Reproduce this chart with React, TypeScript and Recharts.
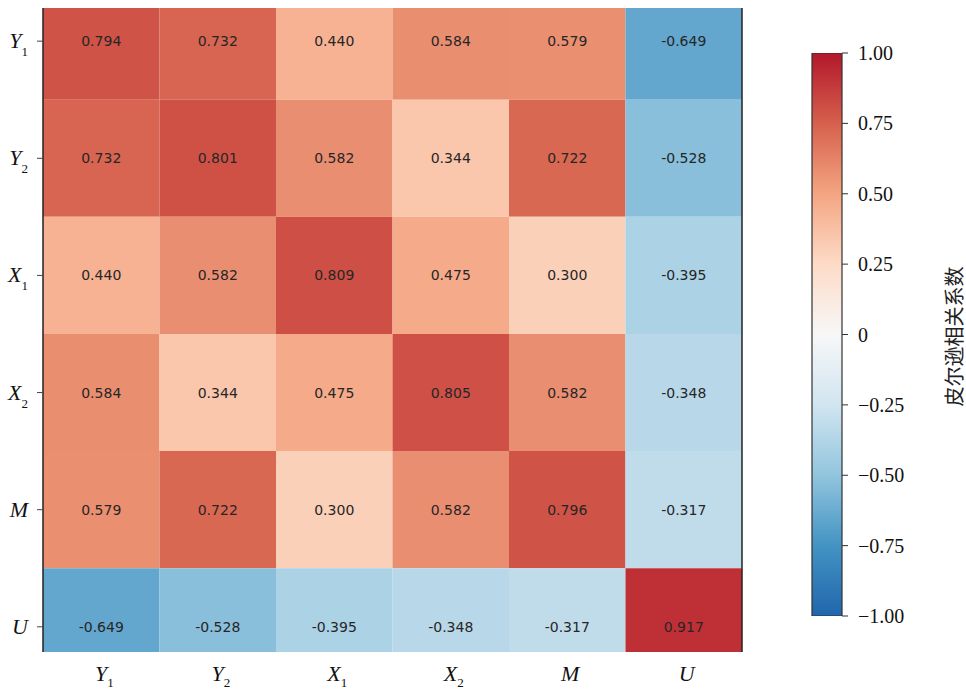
import React from 'react';
import { ScatterChart, Scatter, BarChart, Bar, XAxis, YAxis, ReferenceArea, ReferenceLine } from 'recharts';

// variable names, top-to-bottom / left-to-right
const labelBases = ['Y', 'Y', 'X', 'X', 'M', 'U'];
const labelSubs = ['1', '2', '1', '2', '', ''];

// Pearson correlation rows
const rowY1 = [0.794, 0.732, 0.44, 0.584, 0.579, -0.649];
const rowY2 = [0.732, 0.801, 0.582, 0.344, 0.722, -0.528];
const rowX1 = [0.44, 0.582, 0.809, 0.475, 0.3, -0.395];
const rowX2 = [0.584, 0.344, 0.475, 0.805, 0.582, -0.348];
const rowM = [0.579, 0.722, 0.3, 0.582, 0.796, -0.317];
const rowU = [-0.649, -0.528, -0.395, -0.348, -0.317, 0.917];
const matrix = [rowY1, rowY2, rowX1, rowX2, rowM, rowU];

const colorbarTicks = [1, 0.75, 0.5, 0.25, 0, -0.25, -0.5, -0.75, -1];
const colorbarRange = [{ name: 'r', range: [-1, 1] }];

// RdBu_r stops from -1 to 1
const rdbu = ['#2166ac', '#4393c3', '#92c5de', '#d1e5f0', '#f7f7f7', '#fddbc7', '#f4a582', '#d6604d', '#b2182b'];

const hexToRgb = (h: string) => [1, 3, 5].map(i => parseInt(h.slice(i, i + 2), 16));

const colorFor = (v: number) => {
  const t = Math.min(Math.max((v + 1) / 2, 0), 1) * (rdbu.length - 1);
  const i = Math.min(Math.floor(t), rdbu.length - 2);
  const f = t - i;
  const a = hexToRgb(rdbu[i]);
  const b = hexToRgb(rdbu[i + 1]);
  const c = a.map((x, k) => Math.round(x + (b[k] - x) * f));
  return `rgb(${c[0]},${c[1]},${c[2]})`;
};

const cells = matrix.flatMap((row, r) => row.map((v, c) => ({ x: c + 0.5, y: r + 0.5, r, c, v })));
const centerTicks = labelBases.map((_, i) => i + 0.5);

const serif = 'Liberation Serif, Times New Roman, serif';

const YTick = (props: any) => {
  const { x, y, payload } = props;
  const i = Math.floor(payload.value);
  return (
    <text x={x - 7} y={y} textAnchor="end" fontFamily={serif} fontSize={22} fill="#111">
      <tspan fontStyle="italic" dy={7}>{labelBases[i]}</tspan>
      {labelSubs[i] && <tspan fontSize={13} dy={8}>{labelSubs[i]}</tspan>}
    </text>
  );
};

const XTick = (props: any) => {
  const { x, y, payload } = props;
  const i = Math.floor(payload.value);
  return (
    <text x={x + 3} y={y} textAnchor="middle" fontFamily={serif} fontSize={22} fill="#111">
      <tspan fontStyle="italic" dy={21}>{labelBases[i]}</tspan>
      {labelSubs[i] && <tspan fontSize={13} dy={6}>{labelSubs[i]}</tspan>}
    </text>
  );
};

const ValueLabel = (props: any) => (
  <text
    x={props.cx}
    y={props.cy}
    textAnchor="middle"
    dominantBaseline="central"
    fontFamily="DejaVu Sans, sans-serif"
    fontSize={14}
    fill="#262626"
  >
    {props.payload.v.toFixed(3)}
  </text>
);

const fmtTick = (v: number) => (v === 0 ? '0' : (v < 0 ? '\u2212' : '') + Math.abs(v).toFixed(2));

const CbarTitle = (props: any) => {
  const { viewBox } = props;
  const cx = viewBox.x + 111;
  const cy = viewBox.y + viewBox.height / 2 + 2;
  return (
    <text
      x={cx}
      y={cy}
      transform={`rotate(-90 ${cx} ${cy})`}
      textAnchor="middle"
      dominantBaseline="central"
      fontFamily="Noto Sans CJK SC, sans-serif"
      fontSize={20}
      fill="#222"
    >
      皮尔逊相关系数
    </text>
  );
};

export default function App() {
  return (
    <div style={{ position: 'absolute', left: 0, top: 0, width: 966, height: 690, background: '#fff' }}>
      <div style={{ position: 'absolute', left: 0, top: 0 }}>
        <ScatterChart width={760} height={690} margin={{ top: 8, right: 18, bottom: 0, left: 0 }}>
          <XAxis
            type="number"
            dataKey="x"
            domain={[0, 6]}
            ticks={centerTicks}
            axisLine={false}
            tickLine={false}
            height={38}
            tick={<XTick />}
            allowDataOverflow
          />
          <YAxis
            type="number"
            dataKey="y"
            domain={[0.217, 5.715]}
            reversed
            ticks={centerTicks}
            width={43}
            tickSize={6}
            axisLine={{ stroke: '#222', strokeWidth: 1.5 }}
            tickLine={{ stroke: '#444' }}
            tick={<YTick />}
            allowDataOverflow
          />
          {cells.map(d => (
            <ReferenceArea
              key={`${d.r}-${d.c}`}
              x1={d.c}
              x2={d.c + 1}
              y1={d.r}
              y2={d.r + 1}
              fill={colorFor(d.v)}
              fillOpacity={1}
              stroke="none"
              ifOverflow="hidden"
            />
          ))}
          <ReferenceLine x={6} stroke="#222" strokeWidth={1.5} />
          <Scatter data={cells} shape={<ValueLabel />} isAnimationActive={false} />
        </ScatterChart>
      </div>
      <div style={{ position: 'absolute', left: 780, top: 0 }}>
        <BarChart
          width={186}
          height={690}
          data={colorbarRange}
          margin={{ top: 53, right: 0, bottom: 74, left: 32 }}
          barCategoryGap={0}
        >
          <defs>
            <linearGradient id="cbarGrad" x1="0" y1="1" x2="0" y2="0">
              {rdbu.map((c, i) => (
                <stop key={c} offset={`${(i / (rdbu.length - 1)) * 100}%`} stopColor={c} />
              ))}
            </linearGradient>
          </defs>
          <XAxis dataKey="name" hide />
          <YAxis
            type="number"
            orientation="right"
            domain={[-1, 1]}
            ticks={colorbarTicks}
            tickFormatter={fmtTick}
            width={124}
            tickSize={6}
            tickMargin={10}
            axisLine={false}
            tickLine={{ stroke: '#333' }}
            tick={{ fontFamily: serif, fontSize: 20, fill: '#111' }}
            label={{ content: <CbarTitle /> }}
            allowDataOverflow
          />
          <Bar dataKey="range" fill="url(#cbarGrad)" stroke="#333" strokeWidth={1.2} isAnimationActive={false} />
        </BarChart>
      </div>
    </div>
  );
}
